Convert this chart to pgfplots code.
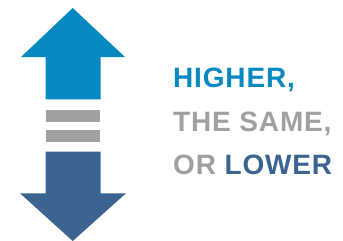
\documentclass[border=0pt]{standalone}
\usepackage{pgfplots}
\pgfplotsset{compat=1.18}
\usepackage{fontspec}
\setmainfont{Liberation Sans}[LetterSpace=3]
\definecolor{upblue}{HTML}{0589C0}
\definecolor{midgray}{HTML}{A0A0A0}
\definecolor{downblue}{HTML}{3B6491}
\begin{document}
\begin{tikzpicture}
\begin{axis}[
  scale only axis, width=343pt, height=241pt,
  xmin=0, xmax=343, ymin=0, ymax=241, y dir=reverse,
  axis lines=none, clip=false,
]
% up arrow
\addplot[fill=upblue, draw=none] coordinates {
 (72.7,8) (125,57) (100.7,57) (100.7,99.3) (45.7,99.3) (45.7,57) (21,57)} -- cycle;
% equals bars
\addplot[fill=midgray, draw=none] coordinates {
 (45.7,110) (100.3,110) (100.3,121.7) (45.7,121.7)} -- cycle;
\addplot[fill=midgray, draw=none] coordinates {
 (45.7,130) (100.3,130) (100.3,141.7) (45.7,141.7)} -- cycle;
% down arrow
\addplot[fill=downblue, draw=none] coordinates {
 (45.7,151.7) (100.7,151.7) (100.7,193.3) (126,193.3) (72.7,241) (20,193.3) (45.7,193.3)} -- cycle;
\node[anchor=base west, inner sep=0pt, font=\fontsize{28}{28}\selectfont\bfseries, text=upblue] at (axis cs:173,87.3) {HIGHER,};
\node[anchor=base west, inner sep=0pt, font=\fontsize{28}{28}\selectfont\bfseries, text=midgray] at (axis cs:173,131.3) {THE SAME,};
\node[anchor=base west, inner sep=0pt, font=\fontsize{28}{28}\selectfont\bfseries, text=midgray] at (axis cs:173,174.3) {OR \textcolor{downblue}{LOWER}};
\end{axis}
\path (current axis.south west) rectangle (current axis.north east);
\end{tikzpicture}
\end{document}
